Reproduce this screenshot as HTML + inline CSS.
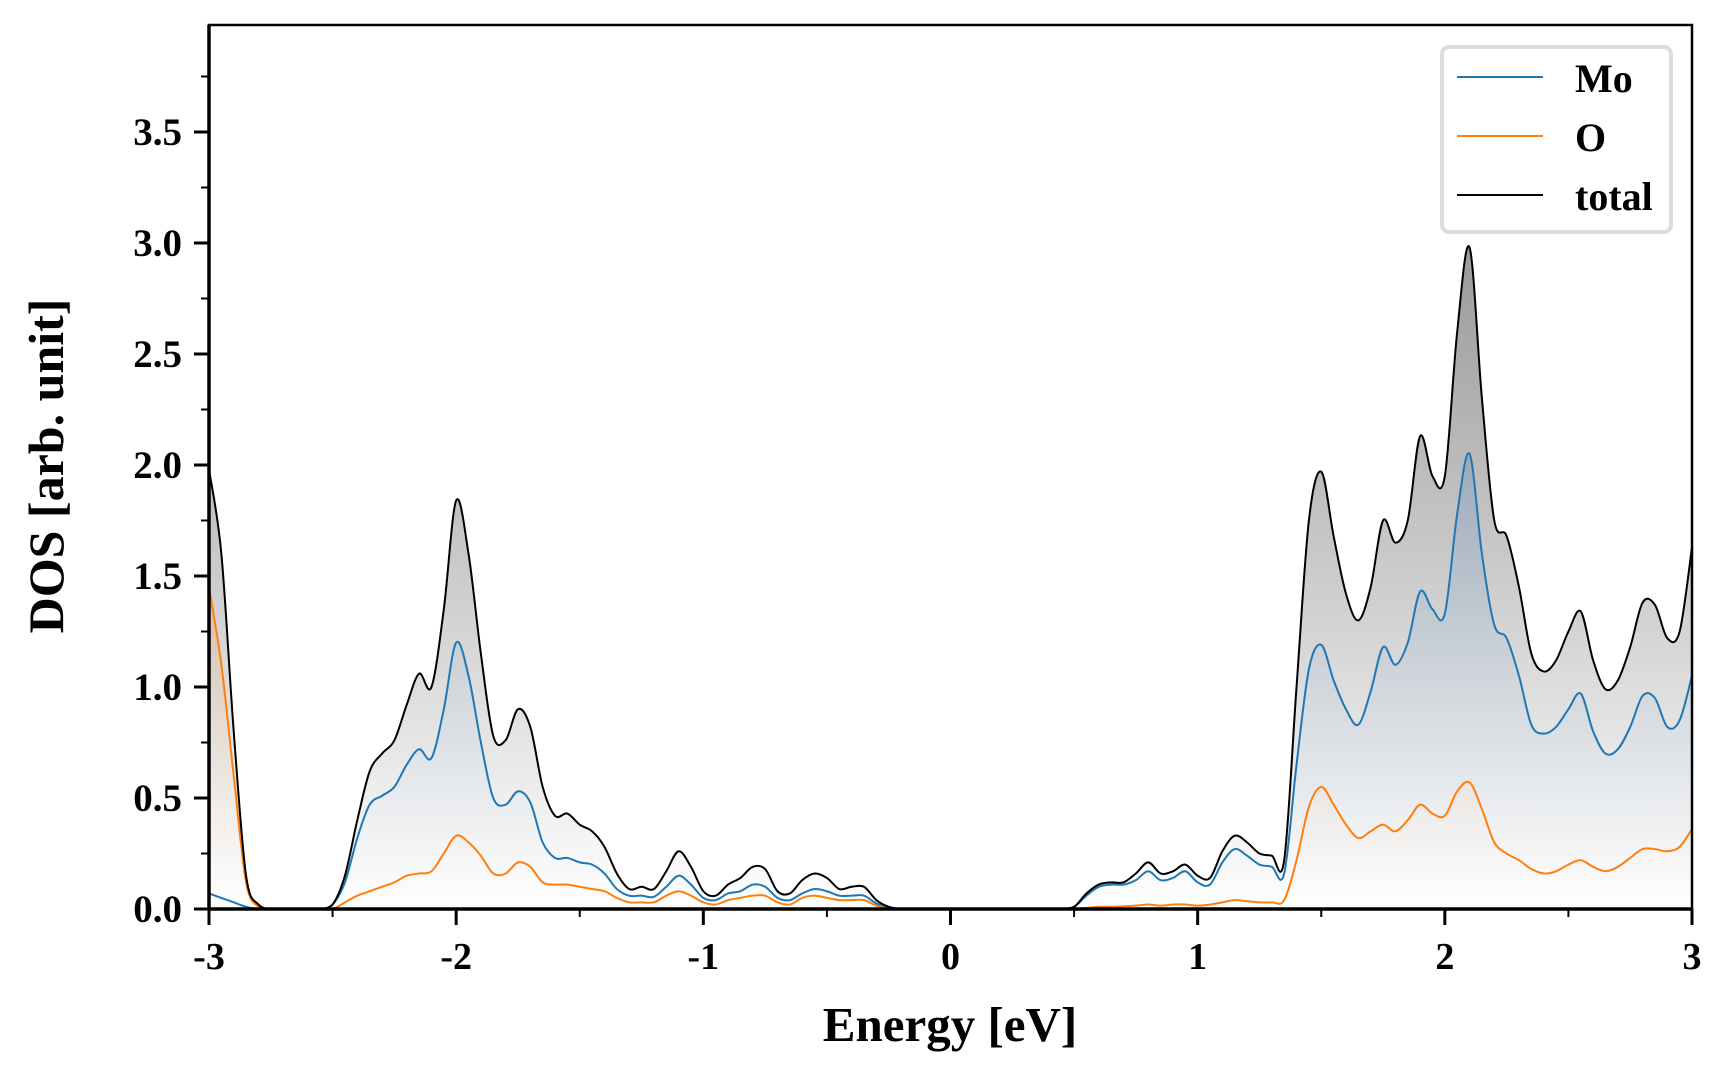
<!DOCTYPE html>
<html><head><meta charset="utf-8"><style>
html,body{margin:0;padding:0;background:#fff;}
svg{display:block;font-family:"Liberation Serif","DejaVu Serif",serif;font-weight:bold;}
</style></head><body>
<svg id="chart" width="1728" height="1080" viewBox="0 0 1728 1080" xmlns="http://www.w3.org/2000/svg">
<defs>
<linearGradient id="gTot" gradientUnits="userSpaceOnUse" x1="0" y1="250" x2="0" y2="909"><stop offset="0" stop-color="#9a9a9a"/><stop offset="1" stop-color="#ffffff"/></linearGradient>
<linearGradient id="gMo" gradientUnits="userSpaceOnUse" x1="0" y1="450" x2="0" y2="909"><stop offset="0" stop-color="#7f9ab6" stop-opacity="0.55"/><stop offset="1" stop-color="#ffffff" stop-opacity="0.3"/></linearGradient>
<linearGradient id="gO" gradientUnits="userSpaceOnUse" x1="0" y1="580" x2="0" y2="909"><stop offset="0" stop-color="#d9a878" stop-opacity="0.45"/><stop offset="1" stop-color="#ffffff" stop-opacity="0.2"/></linearGradient>
<clipPath id="clip"><rect x="209" y="25" width="1483" height="884"/></clipPath>
</defs>
<g id="fills" clip-path="url(#clip)"></g>
<g id="lines" clip-path="url(#clip)"></g>
<g id="axes"></g>
<g>
<rect x="1442" y="47" width="229" height="185" rx="7" fill="#fff" stroke="#dddddd" stroke-width="4"/>
<line x1="1457" y1="77" x2="1543" y2="77" stroke="#1f77b4" stroke-width="2"/>
<text x="1575" y="92" font-size="40">Mo</text>
<line x1="1457" y1="136" x2="1543" y2="136" stroke="#ff7f0e" stroke-width="2"/>
<text x="1575" y="151" font-size="40">O</text>
<line x1="1457" y1="195" x2="1543" y2="195" stroke="#000" stroke-width="2"/>
<text x="1575" y="210" font-size="40">total</text>
</g>
<text x="950" y="1041" font-size="49" text-anchor="middle">Energy [eV]</text>
<text x="0" y="0" font-size="50" text-anchor="middle" transform="translate(63,466) rotate(-90)">DOS [arb. unit]</text>
</svg>
<script>
const energies = [];
for (let i = 0; i <= 120; i++) energies.push(-3 + i * 0.05);
const totalDos = [1.98,1.6,0.8,0.15,0.02,0,0,0,0,0,0.02,0.15,0.4,0.62,0.7,0.76,0.92,1.06,1.0,1.35,1.84,1.6,1.15,0.78,0.76,0.9,0.82,0.55,0.42,0.43,0.38,0.35,0.28,0.16,0.09,0.1,0.09,0.17,0.26,0.19,0.08,0.06,0.11,0.14,0.19,0.18,0.08,0.07,0.13,0.16,0.14,0.09,0.1,0.1,0.04,0.01,0,0,0,0,0,0,0,0,0,0,0,0,0,0,0.01,0.07,0.11,0.12,0.12,0.16,0.21,0.16,0.17,0.2,0.15,0.14,0.26,0.33,0.3,0.25,0.24,0.22,1.0,1.75,1.97,1.68,1.42,1.3,1.45,1.75,1.65,1.75,2.13,1.95,1.95,2.6,2.98,2.3,1.75,1.68,1.45,1.15,1.07,1.12,1.25,1.34,1.12,0.99,1.03,1.18,1.38,1.37,1.22,1.25,1.63];
const moDos = [0.07,0.05,0.03,0.01,0,0,0,0,0,0,0.02,0.12,0.32,0.47,0.51,0.55,0.65,0.72,0.68,0.9,1.2,1.05,0.75,0.5,0.47,0.53,0.48,0.3,0.23,0.23,0.21,0.2,0.16,0.09,0.06,0.06,0.055,0.1,0.15,0.11,0.05,0.04,0.07,0.08,0.11,0.1,0.05,0.04,0.07,0.09,0.08,0.06,0.06,0.06,0.025,0.005,0,0,0,0,0,0,0,0,0,0,0,0,0,0,0.01,0.06,0.1,0.11,0.11,0.13,0.17,0.13,0.14,0.17,0.12,0.11,0.21,0.27,0.24,0.2,0.19,0.16,0.65,1.08,1.19,1.03,0.9,0.83,0.98,1.18,1.1,1.2,1.43,1.35,1.33,1.78,2.05,1.6,1.28,1.22,1.05,0.83,0.79,0.82,0.9,0.97,0.8,0.7,0.72,0.82,0.96,0.95,0.82,0.85,1.05];
const oDos = [1.45,1.1,0.6,0.12,0.01,0,0,0,0,0,0,0.03,0.06,0.08,0.1,0.12,0.15,0.16,0.17,0.25,0.33,0.3,0.24,0.16,0.16,0.21,0.19,0.12,0.11,0.11,0.1,0.09,0.08,0.05,0.03,0.03,0.03,0.06,0.08,0.06,0.03,0.02,0.04,0.05,0.06,0.06,0.03,0.02,0.05,0.06,0.05,0.04,0.04,0.04,0.015,0.003,0,0,0,0,0,0,0,0,0,0,0,0,0,0,0,0.005,0.01,0.01,0.012,0.015,0.02,0.015,0.02,0.02,0.015,0.02,0.03,0.04,0.035,0.03,0.03,0.04,0.22,0.46,0.55,0.47,0.38,0.32,0.35,0.38,0.35,0.4,0.47,0.43,0.42,0.53,0.57,0.45,0.3,0.25,0.22,0.18,0.16,0.17,0.2,0.22,0.19,0.17,0.19,0.23,0.27,0.27,0.26,0.28,0.36];
const xTickLabels = ["-3","-2","-1","0","1","2","3"];
const yTickLabels = ["0.0","0.5","1.0","1.5","2.0","2.5","3.0","3.5"];

const X0=209, X1=1692, Y0=909, Y1=25, XMIN=-3, XMAX=3, YMAX=(Y0-Y1)/222;
function xs(e){return X0+(e-XMIN)/(XMAX-XMIN)*(X1-X0);}
function ys(v){return Y0-v/YMAX*(Y0-Y1);}
const NS="http://www.w3.org/2000/svg";
function mk(tag,attrs,parent){const el=document.createElementNS(NS,tag);for(const k in attrs)el.setAttribute(k,attrs[k]);parent.appendChild(el);return el;}
function curve(vals){
  const p=vals.map((v,i)=>[xs(energies[i]),ys(v)]);
  let d="M"+p[0][0].toFixed(2)+","+p[0][1].toFixed(2);
  for(let i=0;i<p.length-1;i++){
    const a=p[Math.max(0,i-1)],b=p[i],c=p[i+1],e=p[Math.min(p.length-1,i+2)];
    let c1y=b[1]+(c[1]-a[1])/6, c2y=c[1]-(e[1]-b[1])/6;
    c1y=Math.min(c1y,Y0); c2y=Math.min(c2y,Y0);
    d+=" C"+(b[0]+(c[0]-a[0])/6).toFixed(2)+","+c1y.toFixed(2)+" "+(c[0]-(e[0]-b[0])/6).toFixed(2)+","+c2y.toFixed(2)+" "+c[0].toFixed(2)+","+c[1].toFixed(2);
  }
  return d;
}
const fills=document.getElementById('fills'), lines=document.getElementById('lines'), axes=document.getElementById('axes');
const series=[[totalDos,'#000','url(#gTot)','total'],[moDos,'#1f77b4','url(#gMo)','mo'],[oDos,'#ff7f0e','url(#gO)','o']];
series.forEach(s=>{
  const d=curve(s[0]);
  const f=mk('path',{d:d+" L"+X1+","+Y0+" L"+X0+","+Y0+" Z",fill:s[2],stroke:'none'},fills);
  
  
});
[series[1],series[2],series[0]].forEach(s=>{
  const l=mk('path',{d:curve(s[0]),fill:'none',stroke:s[1],'stroke-width':2,'stroke-linejoin':'round'},lines);
  
  
});
const fr=mk('path',{d:`M${X0},${Y0} L${X0},${Y1} L${X1},${Y1} L${X1},${Y0}`,fill:'none',stroke:'#000','stroke-width':2.5},axes);


const xa=mk('line',{x1:X0-1,y1:Y0,x2:X1+1,y2:Y0,stroke:'#000','stroke-width':3.5},axes);


const ya=mk('line',{x1:X0,y1:Y0+1,x2:X0,y2:Y1,stroke:'#000','stroke-width':3.5},axes);


xTickLabels.forEach(lbl=>{
  const v=parseFloat(lbl), x=xs(v);
  mk('line',{x1:x,y1:Y0,x2:x,y2:Y0+16,stroke:'#000','stroke-width':3},axes);
  const t=mk('text',{x:x,y:Y0+60,'font-size':38,'text-anchor':'middle'},axes);
  t.textContent=lbl;
  
  
  if(v<XMAX){const m=xs(v+0.5);mk('line',{x1:m,y1:Y0,x2:m,y2:Y0+8,stroke:'#000','stroke-width':2},axes);}
});
yTickLabels.forEach(lbl=>{
  const v=parseFloat(lbl), y=ys(v);
  mk('line',{x1:X0-15,y1:y,x2:X0,y2:y,stroke:'#000','stroke-width':3},axes);
  const t=mk('text',{x:X0-27,y:y+13,'font-size':39,'text-anchor':'end'},axes);
  t.textContent=lbl;
  
  
  const m=ys(v+0.25);
  if(m>Y1) mk('line',{x1:X0-8,y1:m,x2:X0,y2:m,stroke:'#000','stroke-width':2},axes);
});
</script>
</body></html>
